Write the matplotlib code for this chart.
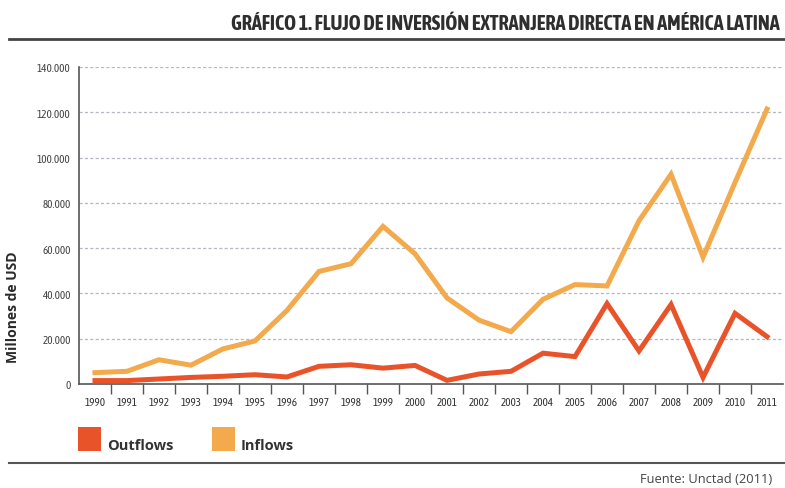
import numpy as np
import matplotlib.pyplot as plt
from matplotlib.patches import Rectangle
from matplotlib.lines import Line2D

# ------------------------- Data -------------------------
years = [str(y) for y in range(1990, 2012)]
inflows = [5000, 5600, 10700, 8300, 15500, 19000, 32500, 49700, 53100, 69600,
           57500, 38000, 28200, 23100, 37400, 43900, 43300, 72100, 92600, 56000,
           89000, 121400]
outflows = [1500, 1500, 2200, 2900, 3400, 4100, 3100, 7800, 8500, 7000,
            8200, 1600, 4400, 5600, 13600, 12100, 35500, 14600, 35100, 2900,
            31200, 20900]
y_ticks = [0, 20000, 40000, 60000, 80000, 100000, 120000, 140000]
y_tick_labels = ['0', '20.000', '40.000', '60.000', '80.000', '100.000', '120.000', '140.000']

COL_OUT = '#E8532A'
COL_IN = '#F2AA4C'
TXT = '#333333'
COND = ['Asap Condensed', 'Barlow Semi Condensed', 'Liberation Sans Narrow', 'DejaVu Sans']
PLAIN = ['Open Sans', 'DejaVu Sans']

# ------------------------- Figure -------------------------
fig = plt.figure(figsize=(7.85, 4.89), dpi=100)
ax = fig.add_axes([0.1006, 0.2127, 0.8969, 0.6483])

x = np.arange(len(years))
ax.plot(x, outflows, color=COL_OUT, lw=3.6, solid_joinstyle='miter', zorder=3)
ax.plot(x, inflows, color=COL_IN, lw=3.6, solid_joinstyle='miter', zorder=3)

ax.set_xlim(-0.5, 21.5)
ax.set_ylim(0, 140000)

# grid
for v in y_ticks[1:]:
    ax.axhline(v, color='#B4B8C0', lw=0.9, ls=(0, (2.5, 1.8)), zorder=1)

ax.set_yticks(y_ticks)
ax.set_yticklabels(y_tick_labels, fontsize=8, color='#444444', family=COND)
ax.tick_params(axis='y', length=0, pad=6)

# ticks between categories, labels at centres
ax.set_xticks(x[:-1] + 0.5)
ax.set_xticklabels([])
ax.tick_params(axis='x', which='major', length=7, width=1, color='#555555', direction='out')
ax.set_xticks(x, minor=True)
ax.set_xticklabels(years, minor=True, fontsize=8, color=TXT, family=COND)
ax.tick_params(axis='x', which='minor', length=0, pad=9)

for s in ['top', 'right']:
    ax.spines[s].set_visible(False)
for s in ['left', 'bottom']:
    ax.spines[s].set_color('#555555')
    ax.spines[s].set_linewidth(1.2)

ax.set_ylabel('Millones de USD', fontsize=10, fontweight='bold', color='#2a2a2a', family=PLAIN)
ax.yaxis.set_label_coords(-0.0843, (385 - 307) / 317)

# title and rules
fig.text(780 / 785, 1 - 23.5 / 489, 'GRÁFICO 1. FLUJO DE INVERSIÓN EXTRANJERA DIRECTA EN AMÉRICA LATINA',
         ha='right', va='center', fontsize=14.6, fontweight='bold', color='#2e2e2e', family=COND)
fig.add_artist(Line2D([0.011, 1.0], [1 - 39.5 / 489] * 2, color='#444444', lw=2))
fig.add_artist(Line2D([0.011, 1.0], [1 - 464 / 489] * 2, color='#555555', lw=1.5))

# legend
for x0, col, lab in [(78, COL_OUT, 'Outflows'), (212, COL_IN, 'Inflows')]:
    fig.add_artist(Rectangle((x0 / 785, 1 - 452 / 489), 23 / 785, 24 / 489,
                             transform=fig.transFigure, color=col, lw=0))
    fig.text((x0 + 29) / 785, 1 - 446 / 489, lab, ha='left', va='center',
             fontsize=10.5, fontweight='bold', color=TXT, family=PLAIN)

fig.text(772 / 785, 1 - 480 / 489, 'Fuente: Unctad (2011)', ha='right', va='center',
         fontsize=9.3, color='#444444', family=PLAIN)

plt.savefig('out.png', dpi=100)
plt.close()
